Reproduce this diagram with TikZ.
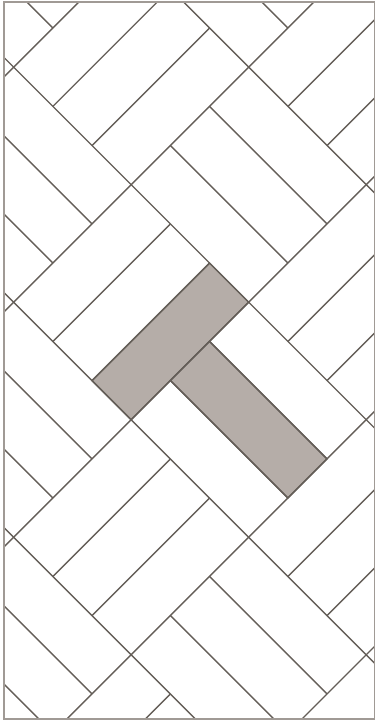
\documentclass[tikz,border=0pt]{standalone}
\usepackage{tikz}
\definecolor{groutline}{HTML}{645E58}
\definecolor{frameline}{HTML}{A09A95}
\definecolor{tilefill}{HTML}{B5ADA8}

\begin{document}
\begin{tikzpicture}[x=1pt, y=1pt]
    \useasboundingbox (0,0) rectangle (376,-721);

    \begin{scope}
    \clip (4,-2) rectangle (374.5,-719);
    % tile grid turned by 45 degrees, one unit = one tile width
    \begin{scope}[shift={(13.7,-67.2)}, x={(39.17pt,-39.17pt)}, y={(39.17pt,39.17pt)},
                  groutline, line width=1.4pt]
        % the two marked tiles
        \filldraw[fill=tilefill] (5,-3) -- (6,-3) -- (6,0) -- (5,0) -- cycle;
        \filldraw[fill=tilefill] (6,-2) -- (9,-2) -- (9,-1) -- (6,-1) -- cycle;

        % borders of the 3x3 blocks
        \foreach \k in {-6,...,6} {
            \draw (3*\k,-18) -- (3*\k,18);
            \draw (-18,3*\k) -- (18,3*\k);
        }

        % three tiles in each block, turning from block to block
        \foreach \a in {-2,...,5} {
            \foreach \b in {-5,...,3} {
                \ifodd\numexpr\a+\b\relax
                    \draw (3*\a,3*\b+1) -- ++(3,0) (3*\a,3*\b+2) -- ++(3,0);
                \else
                    \draw (3*\a+1,3*\b) -- ++(0,3) (3*\a+2,3*\b) -- ++(0,3);
                \fi
            }
        }
    \end{scope}
    \end{scope}

    % frame
    \draw[frameline, line width=1.3pt] (4,-2) rectangle (374.5,-719);
\end{tikzpicture}
\end{document}
